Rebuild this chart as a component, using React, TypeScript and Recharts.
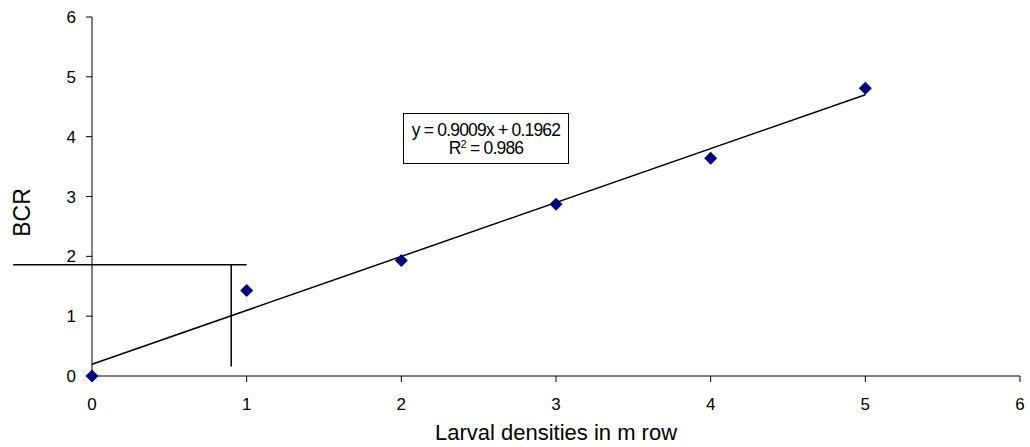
import React from 'react';
import { ScatterChart, Scatter, XAxis, YAxis, ReferenceLine } from 'recharts';

const densities = [0, 1, 2, 3, 4, 5];
const bcrValues = [0, 1.43, 1.93, 2.87, 3.64, 4.81];
const xTicks = [0, 1, 2, 3, 4, 5, 6];
const yTicks = [0, 1, 2, 3, 4, 5, 6];
const slope = 0.9009;
const intercept = 0.1962;
const rSquared = 0.986;
const thresholdBCR = 1.86;
const thresholdDensity = 0.9;
const hLineStartX = -0.51;
const hLineEndX = 1.0;
const vLineBottomY = 0.16;

const points = densities.map((x, i) => ({ x, y: bcrValues[i] }));
const trend = [0, 5].map((x) => ({ x, y: slope * x + intercept }));

const FONT = '"Liberation Sans", Arial, sans-serif';

const Diamond = (props: any) => {
  const { cx, cy } = props;
  const r = 6.5;
  return (
    <polygon
      points={`${cx},${cy - r} ${cx + r},${cy} ${cx},${cy + r} ${cx - r},${cy}`}
      fill="#000080"
    />
  );
};

export default function App() {
  return (
    <div style={{ position: 'absolute', left: 0, top: 0, width: 1030, height: 447, background: '#fff', fontFamily: FONT }}>
      <ScatterChart width={1030} height={447} margin={{ top: 17, right: 10, bottom: 0, left: 0 }}>
        <XAxis
          type="number"
          dataKey="x"
          domain={[0, 6]}
          ticks={xTicks}
          height={71}
          tickSize={6}
          tickMargin={16}
          axisLine={{ stroke: '#000', strokeWidth: 1 }}
          tickLine={{ stroke: '#000', strokeWidth: 1 }}
          tick={{ fill: '#000', fontSize: 17, fontFamily: FONT }}
          label={{
            value: 'Larval densities in m row',
            position: 'insideBottom',
            offset: 7,
            style: { fill: '#000', fontSize: 22, fontFamily: FONT },
          }}
        />
        <YAxis
          type="number"
          dataKey="y"
          domain={[0, 6]}
          ticks={yTicks}
          width={92}
          tickSize={6}
          tickMargin={10}
          axisLine={{ stroke: '#000', strokeWidth: 1 }}
          tickLine={{ stroke: '#000', strokeWidth: 1 }}
          tick={{ fill: '#000', fontSize: 17, fontFamily: FONT }}
          label={{
            content: (p: any) => {
              const vb = p.viewBox || { x: 0, y: 17, height: 359 };
              const x = vb.x + 22;
              const y = vb.y + vb.height / 2 + 16;
              return (
                <text
                  x={x}
                  y={y}
                  transform={`rotate(-90 ${x} ${y})`}
                  textAnchor="middle"
                  dominantBaseline="central"
                  fill="#000"
                  fontSize={23}
                  fontFamily={FONT}
                >
                  BCR
                </text>
              );
            },
          }}
        />
        <ReferenceLine
          segment={[{ x: hLineStartX, y: thresholdBCR }, { x: hLineEndX, y: thresholdBCR }]}
          stroke="#000"
          strokeWidth={1.5}
          ifOverflow="visible"
        />
        <ReferenceLine
          segment={[{ x: thresholdDensity, y: vLineBottomY }, { x: thresholdDensity, y: thresholdBCR }]}
          stroke="#000"
          strokeWidth={1.5}
          ifOverflow="visible"
        />
        <Scatter
          data={trend}
          line={{ stroke: '#000', strokeWidth: 1.5 }}
          shape={() => <g />}
          isAnimationActive={false}
          legendType="none"
        />
        <Scatter data={points} shape={Diamond} isAnimationActive={false} />
      </ScatterChart>
      <div
        style={{
          position: 'absolute',
          left: 403,
          top: 113,
          width: 164,
          height: 49,
          border: '1px solid #000',
          background: '#fff',
          display: 'flex',
          flexDirection: 'column',
          justifyContent: 'center',
          alignItems: 'center',
          fontSize: 17.5,
          lineHeight: '18px',
          letterSpacing: -0.8,
          color: '#000',
          fontFamily: FONT,
        }}
      >
        <div>{`y = ${slope}x + ${intercept}`}</div>
        <div>
          R<sup style={{ fontSize: 11, verticalAlign: 'top', lineHeight: '10px' }}>2</sup>{` = ${rSquared}`}
        </div>
      </div>
    </div>
  );
}
